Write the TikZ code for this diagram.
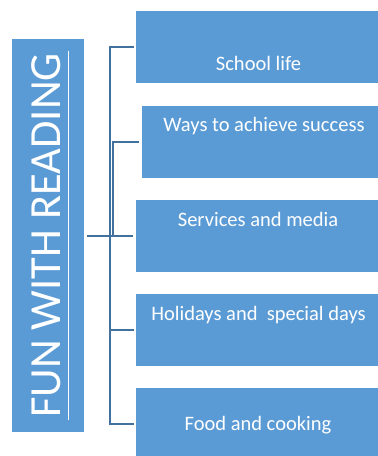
\documentclass[tikz,border=0pt]{standalone}
\usepackage{fontspec}
\setmainfont{Carlito}
\definecolor{boxblue}{RGB}{91,155,213}
\definecolor{linkblue}{RGB}{65,113,156}
\begin{document}
\begin{tikzpicture}[x=1pt,y=-1pt,
        topic/.style={fill=boxblue, minimum width=244pt, minimum height=72pt, inner sep=0pt},
        topictext/.style={anchor=base, text=white, font=\fontsize{20.5}{24}\selectfont},
        link/.style={draw=linkblue, line width=2pt}]
                \useasboundingbox (0,0) rectangle (378,456);
                % title bar
                \node[fill=boxblue, minimum width=72pt, minimum height=393pt, inner sep=0pt] (title) at (48,235.5) {};
                \node[rotate=90, inner sep=0pt, text=white, font=\fontsize{44.5}{50}\selectfont] (titletext) at (46.5,235.5) {FUN WITH READING};
                \draw[white, line width=1.5pt] ([xshift=7pt,yshift=-2pt]titletext.south west) -- ([xshift=7pt,yshift=2pt]titletext.south east);
                % topic boxes
                \node[topic] (b1) at (258,47) {};
                \node[topic] (b2) at (264,142) {};
                \node[topic] (b3) at (258,236) {};
                \node[topic] (b4) at (258,330) {};
                \node[topic] (b5) at (258,424) {};
                \node[topictext] (t1) at (258.5,70) {School life};
                \node[topictext] (t2) at (264,131.5) {Ways to achieve success};
                \node[topictext] (t3) at (258,226) {Services and media};
                \node[topictext] (t4) at (258.5,320) {Holidays and\ \ special days};
                \node[topictext] (t5) at (258,430.5) {Food and cooking};
                % connectors
                \draw[link, shorten <=2pt, shorten >=2pt] (b1.west) -- ++(-26,0) |- (b5.west);
                \draw[link, shorten <=2pt] (b4.west) -- ++(-26,0);
                \draw[link, shorten <=3pt, shorten >=3pt] (title.east |- b3.west) -- (b3.west);
                \draw[link, shorten <=3pt] (b2.west) -- ++(-29,0) -- ++(0,94);
\end{tikzpicture}
\end{document}
